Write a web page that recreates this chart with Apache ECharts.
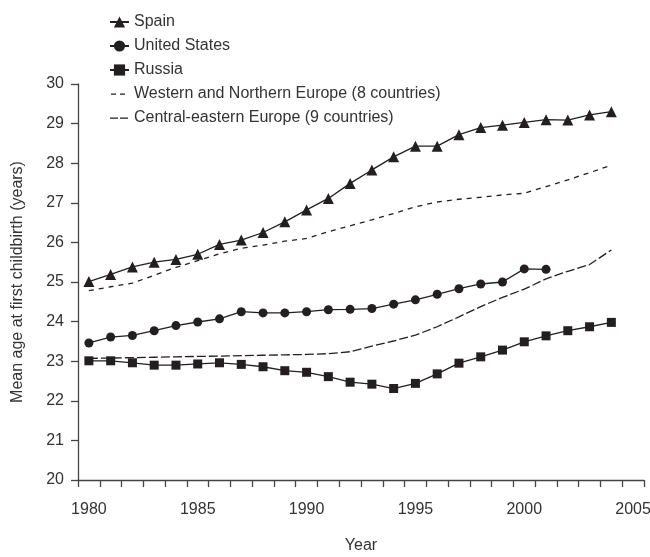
<!DOCTYPE html>
<html>
<head>
<meta charset="utf-8">
<script src="https://cdn.jsdelivr.net/npm/echarts@6/dist/echarts.min.js"></script>
<style>
html,body{margin:0;padding:0;background:#fff;}
#chart{width:650px;height:557px;}
</style>
</head>
<body>
<div id="chart"></div>
<script>
const years = ['1980','1981','1982','1983','1984','1985','1986','1987','1988','1989','1990','1991','1992','1993','1994','1995','1996','1997','1998','1999','2000','2001','2002','2003','2004','2005'];
const spain = [25.01,25.19,25.38,25.50,25.57,25.70,25.95,26.06,26.25,26.52,26.82,27.11,27.49,27.83,28.16,28.43,28.43,28.72,28.90,28.96,29.03,29.10,29.09,29.22,29.30,null];
const unitedStates = [23.46,23.61,23.65,23.77,23.90,23.99,24.07,24.25,24.22,24.22,24.25,24.30,24.31,24.33,24.44,24.55,24.69,24.83,24.95,25.00,25.33,25.32,null,null,null,null];
const russia = [23.01,23.01,22.96,22.90,22.90,22.93,22.96,22.92,22.86,22.76,22.72,22.61,22.47,22.42,22.31,22.44,22.68,22.95,23.11,23.28,23.49,23.64,23.77,23.87,23.98,null];
const westernNorthern = [24.78,24.88,24.97,25.17,25.37,25.54,25.71,25.85,25.93,26.03,26.10,26.27,26.42,26.57,26.73,26.90,27.02,27.09,27.14,27.20,27.24,27.41,27.58,27.76,27.95,null];
const centralEastern = [23.07,23.08,23.09,23.10,23.11,23.12,23.13,23.14,23.15,23.16,23.17,23.19,23.24,23.38,23.51,23.66,23.87,24.12,24.38,24.61,24.82,25.08,25.27,25.44,25.81,null];
const yTicks = [20,21,22,23,24,25,26,27,28,29,30];
const seriesNames = ['Spain','United States','Russia','Western and Northern Europe (8 countries)','Central-eastern Europe (9 countries)'];

const ink = '#231f20';
const txt = '#333333';
const font = 'Liberation Sans, Arial, Helvetica, sans-serif';

// legend icons for dashed series (bounding box 19 x 14, tiny corner dots keep the scale 1:1)
const box = 'M0,0h0.01v0.01h-0.01z M19,14h-0.01v-0.01h0.01z ';
const iconShortDash = 'path://' + box + 'M1,6.4h5v1.3h-5z M10,6.4h5v1.3h-5z';
const iconLongDash = 'path://' + box + 'M0,6.4h8v1.3h-8z M10,6.4h8v1.3h-8z';

const chart = echarts.init(document.getElementById('chart'));
chart.setOption({
  animation: false,
  backgroundColor: '#ffffff',
  textStyle: { fontFamily: font },
  grid: { left: 78, right: 6, top: 84, bottom: 77, containLabel: false, outerBoundsMode: 'none' },
  legend: {
    orient: 'vertical',
    left: 104,
    top: 9,
    itemWidth: 19,
    itemHeight: 14,
    itemGap: 8,
    textStyle: { fontSize: 16, color: txt, fontFamily: font },
    data: [
      { name: seriesNames[0] },
      { name: seriesNames[1] },
      { name: seriesNames[2] },
      { name: seriesNames[3], icon: iconShortDash },
      { name: seriesNames[4], icon: iconLongDash }
    ]
  },
  xAxis: {
    type: 'category',
    data: years,
    boundaryGap: true,
    name: 'Year',
    nameLocation: 'middle',
    nameGap: 58,
    nameTextStyle: { fontSize: 16, color: txt, fontFamily: font },
    axisLine: { show: true, lineStyle: { color: '#444', width: 1.3 } },
    axisTick: { show: true, interval: 0, length: 7, inside: false, lineStyle: { color: '#444', width: 1.3 } },
    axisLabel: { interval: 4, fontSize: 16, color: txt, margin: 22, fontFamily: font },
    splitLine: { show: false }
  },
  yAxis: {
    type: 'value',
    min: yTicks[0],
    max: yTicks[yTicks.length - 1],
    interval: 1,
    name: 'Mean age at first childbirth (years)',
    nameLocation: 'middle',
    nameGap: 52,
    nameTextStyle: { fontSize: 16, color: txt, fontFamily: font },
    axisLine: { show: true, lineStyle: { color: '#444', width: 1.3 } },
    axisTick: { show: true, length: 7, lineStyle: { color: '#444', width: 1.3 } },
    axisLabel: { fontSize: 16, color: txt, margin: 14, fontFamily: font },
    splitLine: { show: false }
  },
  series: [
    {
      name: seriesNames[0], type: 'line', data: spain,
      symbol: 'triangle', symbolSize: 11, showAllSymbol: true,
      lineStyle: { color: ink, width: 1.3 },
      itemStyle: { color: ink }
    },
    {
      name: seriesNames[1], type: 'line', data: unitedStates,
      symbol: 'circle', symbolSize: 9, showAllSymbol: true,
      lineStyle: { color: ink, width: 1.3 },
      itemStyle: { color: ink }
    },
    {
      name: seriesNames[2], type: 'line', data: russia,
      symbol: 'rect', symbolSize: 9, showAllSymbol: true,
      lineStyle: { color: ink, width: 1.3 },
      itemStyle: { color: ink }
    },
    {
      name: seriesNames[3], type: 'line', data: westernNorthern,
      symbol: 'none',
      lineStyle: { color: ink, width: 1.3, type: [5, 5] },
      itemStyle: { color: ink }
    },
    {
      name: seriesNames[4], type: 'line', data: centralEastern,
      symbol: 'none',
      lineStyle: { color: ink, width: 1.3, type: [9, 3] },
      itemStyle: { color: ink }
    }
  ]
});
</script>
</body>
</html>
